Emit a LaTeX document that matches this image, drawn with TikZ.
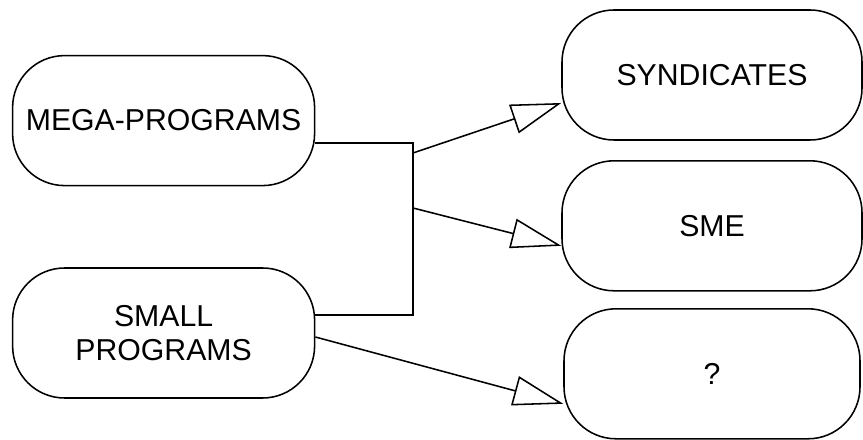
\documentclass[tikz,border=0pt]{standalone}
\usepackage{fontspec}
\setmainfont{Liberation Sans}
\usetikzlibrary{positioning,arrows.meta}

\begin{document}
\begin{tikzpicture}[->, >={Triangle[open, length=1.25cm, width=0.75cm]}, on grid, line width=1.1pt, state/.style={draw, black, rounded corners=1.3cm, minimum width=7.55cm, minimum height=3.25cm, align=center, font=\fontsize{21.5}{24.5}\selectfont}]
	\useasboundingbox (0,0) rectangle (21.575,10.975);
	\node[state] (A) at (4.09,7.96) {MEGA-PROGRAMS};
	\node[state] (B) [below=5.31cm of A] {SMALL\\PROGRAMS};
	\node[state, minimum width=7.5cm] (C) at (17.8,9.1) {SYNDICATES};
	\node[state, minimum width=7.5cm] (D) [below=3.77cm of C] {SME};
	\node[state, minimum width=7.4cm] (E) [below=3.7cm of D] {?};
	
	\coordinate (J1) at (10.325,7.4);
	\coordinate (J2) at (10.325,3.1);
	\coordinate (J3) at (10.325,7.15);
	\coordinate (J4) at (10.325,5.775);
	\draw[-] (A.east |- J1) -- (J1) -- (J2) -- (B.east |- J2);
	
	\path (J3) edge[] node[]{} ([yshift=-0.7cm]C.west);
	\path (J4) edge[] node[]{} ([yshift=-0.5cm]D.west);
	\path ([yshift=-0.1cm]B.east) edge[] node[]{} ([yshift=-0.75cm]E.west);
	
\end{tikzpicture}
\end{document}
